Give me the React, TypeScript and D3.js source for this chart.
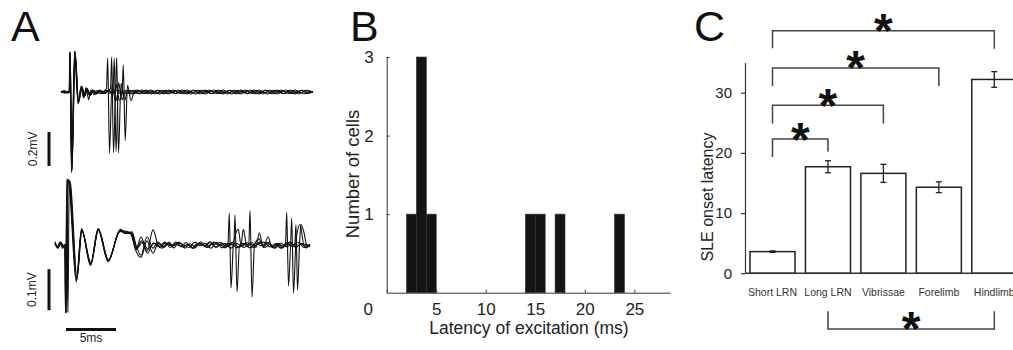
import * as d3 from "d3";
import { useEffect, useRef } from "react";

type Pt = [number, number];

// Panel A: overlaid sweeps, time (ms) vs potential (mV)
const upperSweeps: Pt[][] = [
  [[0,0.005],[0.35,-0.006],[0.7,0.004],[0.82,0],[0.88,0.235],[1.05,-0.47],[1.38,0.24],[1.72,-0.065],[2.05,0.035],[2.3,-0.03],[2.55,0.022],[2.75,-0.045],[3.0,0.012],[3.3,-0.015],[3.6,0.008],[3.95,-0.01],[4.3,0.006],[4.55,0.02],[4.67,0.2],[4.85,-0.36],[5.1,0.05],[5.45,-0.055],[5.8,0.01],[6.3,-0.01],[6.9,0.01],[7.5,-0.008],[8.1,0.012],[8.7,-0.01],[9.3,0.006],[9.9,-0.012],[10.5,0.01],[11.1,-0.006],[11.7,0.012],[12.3,-0.01],[12.9,0.005],[13.5,-0.012],[14.1,0.01],[14.7,-0.005],[15.3,0.012],[15.9,-0.01],[16.5,0.006],[17.1,-0.012],[17.7,0.01],[18.3,-0.006],[18.9,0.012],[19.5,-0.01],[20.1,0.005],[20.7,-0.012],[21.3,0.01],[21.9,-0.006],[22.5,0.012],[23.1,-0.01],[23.7,0.006],[24.3,-0.01],[25.2,0.004]],
  [[0,-0.004],[0.4,0.006],[0.75,-0.003],[0.84,0],[0.9,0.23],[1.08,-0.46],[1.4,0.235],[1.75,-0.06],[2.1,0.03],[2.35,-0.025],[2.6,0.02],[2.9,-0.02],[3.2,0.01],[3.5,-0.01],[3.85,0.012],[4.2,-0.008],[4.6,0.006],[4.95,0.02],[5.07,0.205],[5.25,-0.355],[5.5,0.045],[5.85,-0.05],[6.2,0.008],[6.6,-0.012],[7.2,0.01],[7.8,-0.01],[8.4,0.008],[9.0,-0.012],[9.6,0.01],[10.2,-0.006],[10.8,0.012],[11.4,-0.01],[12.0,0.006],[12.6,-0.012],[13.2,0.01],[13.8,-0.005],[14.4,0.012],[15.0,-0.01],[15.6,0.006],[16.2,-0.012],[16.8,0.01],[17.4,-0.006],[18.0,0.012],[18.6,-0.01],[19.2,0.005],[19.8,-0.012],[20.4,0.01],[21.0,-0.006],[21.6,0.012],[22.2,-0.01],[22.8,0.006],[23.4,-0.012],[24.0,0.01],[24.6,-0.006],[25.2,0.002]],
  [[0,0.002],[0.3,0.007],[0.6,-0.005],[0.83,0],[0.89,0.238],[1.06,-0.475],[1.36,0.242],[1.7,-0.07],[2.0,0.03],[2.25,-0.035],[2.5,0.025],[2.8,-0.015],[3.1,0.012],[3.45,-0.012],[3.8,0.008],[4.15,-0.01],[4.5,0.01],[4.85,-0.008],[5.2,0.02],[5.33,0.198],[5.5,-0.35],[5.75,0.055],[6.1,-0.045],[6.5,0.01],[7.0,-0.01],[7.6,0.012],[8.2,-0.008],[8.8,0.01],[9.4,-0.012],[10.0,0.008],[10.6,-0.01],[11.2,0.012],[11.8,-0.006],[12.4,0.01],[13.0,-0.012],[13.6,0.008],[14.2,-0.01],[14.8,0.012],[15.4,-0.006],[16.0,0.01],[16.6,-0.012],[17.2,0.008],[17.8,-0.01],[18.4,0.012],[19.0,-0.006],[19.6,0.01],[20.2,-0.012],[20.8,0.008],[21.4,-0.01],[22.0,0.012],[22.6,-0.006],[23.2,0.01],[23.8,-0.012],[24.4,0.008],[25.2,-0.002]],
  [[0,-0.002],[0.35,0.004],[0.7,-0.006],[0.85,0],[0.91,0.232],[1.09,-0.465],[1.39,0.238],[1.74,-0.06],[2.08,0.032],[2.32,-0.028],[2.58,0.02],[2.85,-0.018],[3.15,0.01],[3.5,-0.012],[3.9,0.01],[4.3,-0.008],[4.7,0.01],[5.1,-0.01],[5.45,0.02],[5.57,0.202],[5.75,-0.358],[6.0,0.05],[6.35,-0.05],[6.7,0.01],[7.2,-0.012],[7.8,0.01],[8.4,-0.01],[9.0,0.012],[9.6,-0.008],[10.2,0.01],[10.8,-0.012],[11.4,0.008],[12.0,-0.01],[12.6,0.012],[13.2,-0.006],[13.8,0.01],[14.4,-0.012],[15.0,0.008],[15.6,-0.01],[16.2,0.012],[16.8,-0.006],[17.4,0.01],[18.0,-0.012],[18.6,0.008],[19.2,-0.01],[19.8,0.012],[20.4,-0.006],[21.0,0.01],[21.6,-0.012],[22.2,0.008],[22.8,-0.01],[23.4,0.012],[24.0,-0.006],[24.6,0.01],[25.2,0]],
  [[0,0.003],[0.4,-0.005],[0.78,0.004],[0.86,0],[0.92,0.228],[1.1,-0.455],[1.41,0.232],[1.76,-0.055],[2.1,0.028],[2.4,-0.022],[2.65,0.018],[2.95,-0.02],[3.3,0.01],[3.65,-0.01],[4.0,0.008],[4.4,-0.01],[4.8,0.01],[5.2,-0.008],[5.6,0.01],[5.95,-0.01],[6.12,0.02],[6.23,0.16],[6.42,-0.285],[6.65,0.04],[7.0,-0.05],[7.4,0.01],[7.9,-0.01],[8.5,0.012],[9.1,-0.008],[9.7,0.01],[10.3,-0.012],[10.9,0.008],[11.5,-0.01],[12.1,0.012],[12.7,-0.006],[13.3,0.01],[13.9,-0.012],[14.5,0.008],[15.1,-0.01],[15.7,0.012],[16.3,-0.006],[16.9,0.01],[17.5,-0.012],[18.1,0.008],[18.7,-0.01],[19.3,0.012],[19.9,-0.006],[20.5,0.01],[21.1,-0.012],[21.7,0.008],[22.3,-0.01],[22.9,0.012],[23.5,-0.006],[24.1,0.01],[24.7,-0.008],[25.2,0.003]],
];

const lowerSweeps: Pt[][] = [
  [[0,0.006],[0.25,-0.006],[0.5,0.008],[0.75,-0.004],[0.95,0.002],[1.05,-0.166],[1.18,0.16],[1.4,0.155],[2.15,-0.085],[2.67,0.037],[3.57,-0.046],[4.33,0.038],[5.33,-0.038],[6.5,0.036],[7.0,0.03],[7.6,0.028],[8.1,-0.012],[8.6,0.02],[9.2,-0.015],[9.8,0.037],[10.3,0.0],[10.7,-0.008],[11.3,0.005],[11.7,-0.003],[12.4,0.007],[12.9,-0.006],[13.2,0.002],[13.9,-0.008],[14.5,0.004],[14.9,-0.002],[15.5,0.008],[16.1,-0.005],[16.5,0.001],[17.0,-0.007],[17.3,0.002],[17.43,0.078],[17.6,-0.105],[17.85,0.005],[18.33,0.038],[18.6,0.0],[18.83,0.038],[19.2,-0.004],[19.7,0.006],[20.1,-0.006],[20.43,0.03],[20.8,-0.004],[21.4,0.006],[21.9,-0.008],[22.4,0.003],[22.8,-0.006],[23.05,0.002],[23.17,0.08],[23.35,-0.1],[23.6,0.006],[24.1,-0.006],[24.6,0.004],[25.1,-0.007],[25.5,0.002]],
  [[0,0.004],[0.3,-0.008],[0.55,0.006],[0.8,-0.006],[1.2,0.002],[1.3,-0.165],[1.42,0.158],[1.55,0.15],[2.2,-0.08],[2.7,0.034],[3.6,-0.044],[4.35,0.036],[5.35,-0.036],[6.45,0.032],[7.0,0.034],[7.6,0.026],[8.1,-0.015],[8.6,-0.03],[9.2,0.01],[9.8,-0.02],[10.3,0.004],[10.9,-0.006],[11.4,0.007],[11.8,-0.002],[12.5,0.005],[13.0,-0.008],[13.5,0.003],[14.0,-0.004],[14.6,0.008],[15.1,-0.006],[15.6,0.002],[16.2,0.006],[16.7,-0.007],[17.3,0.004],[17.88,0.0],[18.0,0.073],[18.2,-0.114],[18.45,0.0],[18.9,-0.006],[19.5,0.005],[19.9,-0.003],[20.5,0.007],[21.0,-0.006],[21.5,0.002],[22.0,-0.008],[22.6,0.005],[23.1,-0.004],[23.55,0.0],[23.67,0.066],[23.85,-0.117],[24.1,0.01],[24.5,0.05],[24.9,0.0],[25.5,-0.004]],
  [[0,0.008],[0.25,-0.004],[0.5,0.006],[0.75,-0.008],[1.0,0.0],[1.07,-0.164],[1.2,0.158],[1.38,0.15],[2.12,-0.09],[2.65,0.04],[3.55,-0.05],[4.3,0.04],[5.3,-0.04],[6.55,0.038],[7.1,0.03],[7.7,0.032],[8.1,0.0],[8.6,-0.025],[9.2,0.02],[9.8,-0.008],[10.3,0.008],[10.8,-0.004],[11.4,0.003],[11.9,-0.007],[12.3,0.005],[12.9,0.0],[13.4,-0.006],[14.0,0.007],[14.5,-0.002],[15.0,0.004],[15.6,-0.008],[16.0,0.002],[16.6,0.006],[17.1,-0.005],[17.7,0.003],[18.2,-0.007],[18.8,0.004],[19.38,0.0],[19.5,0.084],[19.7,-0.127],[19.95,0.0],[20.4,0.015],[20.85,-0.006],[21.3,0.02],[21.7,-0.006],[22.2,0.004],[22.7,-0.008],[23.2,0.006],[23.7,-0.003],[23.98,0.002],[24.1,0.05],[24.25,-0.11],[24.45,0.0],[24.6,0.05],[24.9,0.03],[25.17,0.0],[25.5,-0.004]],
  [[0,0.003],[0.3,-0.007],[0.6,0.007],[0.85,-0.005],[1.1,0.002],[1.18,-0.163],[1.3,0.155],[1.48,0.15],[2.18,-0.082],[2.68,0.036],[3.58,-0.048],[4.32,0.037],[5.32,-0.04],[6.48,0.034],[7.05,0.028],[7.65,0.03],[8.2,-0.008],[8.7,0.006],[9.3,-0.01],[9.9,0.004],[10.4,-0.004],[11.0,0.007],[11.5,-0.006],[12.0,0.002],[12.6,-0.003],[13.1,0.006],[13.7,-0.007],[14.2,0.003],[14.8,0.0],[15.3,-0.006],[15.9,0.007],[16.4,-0.002],[17.0,0.004],[17.6,-0.008],[18.1,0.005],[18.7,-0.003],[19.2,0.006],[19.8,-0.006],[20.3,0.002],[20.9,0.007],[21.5,-0.005],[22.0,0.003],[22.6,-0.008],[23.1,0.004],[23.7,-0.002],[24.3,0.006],[24.9,-0.006],[25.5,0.002]],
  [[0,0.005],[0.35,-0.005],[0.65,0.005],[0.9,-0.007],[1.05,0.0],[1.12,-0.166],[1.25,0.16],[1.45,0.152],[2.16,-0.087],[2.66,0.038],[3.56,-0.045],[4.34,0.039],[5.34,-0.037],[6.52,0.035],[7.02,0.032],[7.62,0.03],[8.15,-0.01],[8.65,0.01],[9.25,-0.02],[9.85,0.005],[10.5,-0.006],[11.0,0.004],[11.6,-0.002],[12.1,0.007],[12.7,-0.005],[13.3,0.002],[13.8,-0.008],[14.4,0.005],[15.0,-0.003],[15.5,0.006],[16.1,-0.006],[16.6,0.003],[17.2,-0.002],[17.8,0.007],[18.4,-0.006],[18.9,0.002],[19.5,-0.007],[20.1,0.005],[20.6,-0.002],[21.2,0.006],[21.8,-0.006],[22.3,0.003],[22.9,-0.004],[23.5,0.007],[24.0,-0.005],[24.7,0.003],[25.5,-0.002]],
];

// Panel B: latency histogram
const binStarts = [2, 3, 4, 14, 15, 17, 23];
const binEnds = [3, 4, 5, 15, 16, 18, 24];
const cellCounts = [1, 3, 1, 1, 1, 1, 1];
const latencyTicks = [0, 5, 10, 15, 20, 25];
const cellTicks = [1, 2, 3];

// Panel C: SLE onset latency
const groups = ["Short LRN", "Long LRN", "Vibrissae", "Forelimb", "Hindlimb"];
const sleMeans = [3.6, 17.7, 16.6, 14.3, 32.2];
const sleErrors = [0.12, 1.0, 1.5, 0.9, 1.3];
const sleTicks = [0, 10, 20, 30];
const bracketFrom = ["Short LRN", "Short LRN", "Short LRN", "Short LRN", "Long LRN"];
const bracketTo = ["Hindlimb", "Forelimb", "Vibrissae", "Long LRN", "Hindlimb"];
const bracketLevels = [40.3, 34.1, 27.9, 22.3, -9.25];
const bracketLeftEnds = [37.4, 31.1, 24.9, 19.3, -6.3];
const bracketRightEnds = [37.3, 31.1, 24.9, 20.2, -6.3];
const starLevels = [42.2, 36.1, 29.8, 24.1, -7.3];

const FONT = "'Liberation Sans', Arial, sans-serif";

export default function App() {
  const ref = useRef<SVGSVGElement | null>(null);

  useEffect(() => {
    if (!ref.current) return;
    const svg = d3.select(ref.current);
    svg.selectAll("*").remove();
    svg.attr("width", 1013).attr("height", 350).style("font-family", FONT);

    // panel letters
    const letters: [string, number][] = [["A", 11], ["B", 350], ["C", 694]];
    svg
      .selectAll("text.letter")
      .data(letters)
      .enter()
      .append("text")
      .attr("class", "letter")
      .attr("x", (d) => d[1])
      .attr("y", 41)
      .attr("font-size", 43)
      .attr("fill", "#111")
      .text((d) => d[0]);

    // ---- Panel A ----
    const a = svg.append("g");
    const xA1 = d3.scaleLinear().domain([0, 25]).range([61, 311]);
    const yA1 = d3.scaleLinear().domain([0, 0.2]).range([92, 58]);
    const xA2 = d3.scaleLinear().domain([0, 25]).range([55, 305]);
    const yA2 = d3.scaleLinear().domain([0, 0.1]).range([245, 204]);

    const line1 = d3
      .line<Pt>()
      .x((d) => xA1(d[0]))
      .y((d) => yA1(d[1]))
      .curve(d3.curveMonotoneX);
    const line2 = d3
      .line<Pt>()
      .x((d) => xA2(d[0]))
      .y((d) => yA2(d[1]))
      .curve(d3.curveMonotoneX);

    a.selectAll("path.up")
      .data(upperSweeps)
      .enter()
      .append("path")
      .attr("class", "up")
      .attr("d", (d) => line1(d))
      .attr("fill", "none")
      .attr("stroke", "#111")
      .attr("stroke-width", 1.1);

    a.selectAll("path.low")
      .data(lowerSweeps)
      .enter()
      .append("path")
      .attr("class", "low")
      .attr("d", (d) => line2(d))
      .attr("fill", "none")
      .attr("stroke", "#111")
      .attr("stroke-width", 1.1);

    // scale bars
    a.append("line")
      .attr("x1", 49).attr("x2", 49)
      .attr("y1", yA1(-0.235)).attr("y2", yA1(-0.435))
      .attr("stroke", "#111").attr("stroke-width", 3);
    a.append("text")
      .attr("transform", `translate(37,${(yA1(-0.235) + yA1(-0.435)) / 2}) rotate(-90)`)
      .attr("text-anchor", "middle")
      .attr("font-size", 12)
      .attr("fill", "#222")
      .text("0.2mV");
    a.append("line")
      .attr("x1", 49).attr("x2", 49)
      .attr("y1", yA2(-0.059)).attr("y2", yA2(-0.159))
      .attr("stroke", "#111").attr("stroke-width", 3);
    a.append("text")
      .attr("transform", `translate(35.5,${(yA2(-0.059) + yA2(-0.159)) / 2}) rotate(-90)`)
      .attr("text-anchor", "middle")
      .attr("font-size", 12)
      .attr("fill", "#222")
      .text("0.1mV");
    a.append("line")
      .attr("x1", xA2(1.1)).attr("x2", xA2(6.1))
      .attr("y1", 329.5).attr("y2", 329.5)
      .attr("stroke", "#111").attr("stroke-width", 3);
    a.append("text")
      .attr("x", xA2(3.6))
      .attr("y", 342)
      .attr("text-anchor", "middle")
      .attr("font-size", 12)
      .attr("fill", "#222")
      .text("5ms");

    // ---- Panel B ----
    const b = svg.append("g");
    const xB = d3.scaleLinear().domain([0, 28.6]).range([386.7, 670]);
    const yB = d3.scaleLinear().domain([0, 3]).range([292.7, 57]);

    b.selectAll("rect")
      .data(cellCounts)
      .enter()
      .append("rect")
      .attr("x", (_, i) => xB(binStarts[i]))
      .attr("width", (_, i) => xB(binEnds[i]) - xB(binStarts[i]))
      .attr("y", (d) => yB(d))
      .attr("height", (d) => yB(0) - yB(d))
      .attr("fill", "#141414")
      .attr("stroke", "#333")
      .attr("stroke-width", 0.6);

    const yAxisB = b
      .append("g")
      .attr("transform", `translate(${xB(0)},0)`)
      .call(d3.axisLeft(yB).tickValues(cellTicks).tickSize(-3).tickSizeOuter(0).tickPadding(13).tickFormat(d3.format("d")));
    const xAxisB = b
      .append("g")
      .attr("transform", `translate(0,${yB(0)})`)
      .call(d3.axisBottom(xB).tickValues(latencyTicks).tickSize(-3).tickSizeOuter(0).tickPadding(10.5).tickFormat(d3.format("d")));
    xAxisB
      .selectAll<SVGGElement, number>(".tick")
      .filter((d) => d === 0)
      .select("text")
      .attr("dx", -19);
    [yAxisB, xAxisB].forEach((g) => {
      g.selectAll("path,line").attr("stroke", "#333");
      g.selectAll("text").attr("font-size", 17).attr("font-family", FONT).attr("fill", "#222");
    });

    b.append("text")
      .attr("x", 529)
      .attr("y", 334)
      .attr("text-anchor", "middle")
      .attr("font-size", 17.5)
      .attr("fill", "#222")
      .text("Latency of excitation (ms)");
    b.append("text")
      .attr("transform", "translate(359,174) rotate(-90)")
      .attr("text-anchor", "middle")
      .attr("font-size", 18.5)
      .attr("fill", "#222")
      .text("Number of cells");

    // ---- Panel C ----
    const c = svg.append("g");
    const xC = d3.scaleBand().domain(groups).range([745, 1021.8]).paddingInner(0.188).paddingOuter(0.09);
    const yC = d3.scaleLinear().domain([0, 35]).range([273.3, 62.6]);
    const mid = (g: string) => xC(g)! + xC.bandwidth() / 2;

    c.selectAll("rect")
      .data(sleMeans)
      .enter()
      .append("rect")
      .attr("x", (_, i) => xC(groups[i])!)
      .attr("width", xC.bandwidth())
      .attr("y", (d) => yC(d))
      .attr("height", (d) => yC(0) - yC(d))
      .attr("fill", "#fff")
      .attr("stroke", "#222")
      .attr("stroke-width", 1.5);

    // error bars
    const err = c.selectAll("g.err").data(sleMeans).enter().append("g").attr("class", "err");
    err.append("line")
      .attr("x1", (_, i) => mid(groups[i]))
      .attr("x2", (_, i) => mid(groups[i]))
      .attr("y1", (d, i) => yC(d - sleErrors[i]))
      .attr("y2", (d, i) => yC(d + sleErrors[i]))
      .attr("stroke", "#222").attr("stroke-width", 1.3);
    [1, -1].forEach((s) => {
      err.append("line")
        .attr("x1", (_, i) => mid(groups[i]) - 3)
        .attr("x2", (_, i) => mid(groups[i]) + 3)
        .attr("y1", (d, i) => yC(d + s * sleErrors[i]))
        .attr("y2", (d, i) => yC(d + s * sleErrors[i]))
        .attr("stroke", "#222").attr("stroke-width", 1.3);
    });

    const yAxisC = c
      .append("g")
      .attr("transform", `translate(745,0)`)
      .call(d3.axisLeft(yC).tickValues(sleTicks).tickSize(4).tickSizeOuter(0).tickPadding(9).tickFormat(d3.format("d")));
    yAxisC.selectAll("path,line").attr("stroke", "#333").attr("stroke-width", 1.2);
    yAxisC.selectAll("text").attr("font-size", 15).attr("font-family", FONT).attr("fill", "#222");

    c.append("line")
      .attr("x1", 745).attr("x2", 1013)
      .attr("y1", yC(0)).attr("y2", yC(0))
      .attr("stroke", "#333").attr("stroke-width", 1.5);

    c.selectAll("text.cat")
      .data(groups)
      .enter()
      .append("text")
      .attr("class", "cat")
      .attr("x", (d) => mid(d))
      .attr("y", 296)
      .attr("text-anchor", "middle")
      .attr("font-size", 10.5)
      .attr("fill", "#333")
      .text((d) => d);

    c.append("text")
      .attr("transform", "translate(713,197) rotate(-90)")
      .attr("text-anchor", "middle")
      .attr("font-size", 16)
      .attr("fill", "#222")
      .text("SLE onset latency");

    // significance brackets
    const br = c.selectAll("g.br").data(bracketLevels).enter().append("g").attr("class", "br");
    br.append("path")
      .attr("d", (d, i) => {
        const x1 = mid(bracketFrom[i]);
        const x2 = mid(bracketTo[i]);
        return `M${x1},${yC(bracketLeftEnds[i])}V${yC(d)}H${x2}V${yC(bracketRightEnds[i])}`;
      })
      .attr("fill", "none")
      .attr("stroke", "#444")
      .attr("stroke-width", 1.5);
    br.append("text")
      .attr("x", (_, i) => (mid(bracketFrom[i]) + mid(bracketTo[i])) / 2)
      .attr("y", (_, i) => yC(starLevels[i]) + 28)
      .attr("text-anchor", "middle")
      .attr("font-size", 48)
      .attr("font-weight", "bold")
      .attr("fill", "#111")
      .text("*");
  }, []);

  return <svg ref={ref} style={{ position: "absolute", left: 0, top: 0 }}></svg>;
}
